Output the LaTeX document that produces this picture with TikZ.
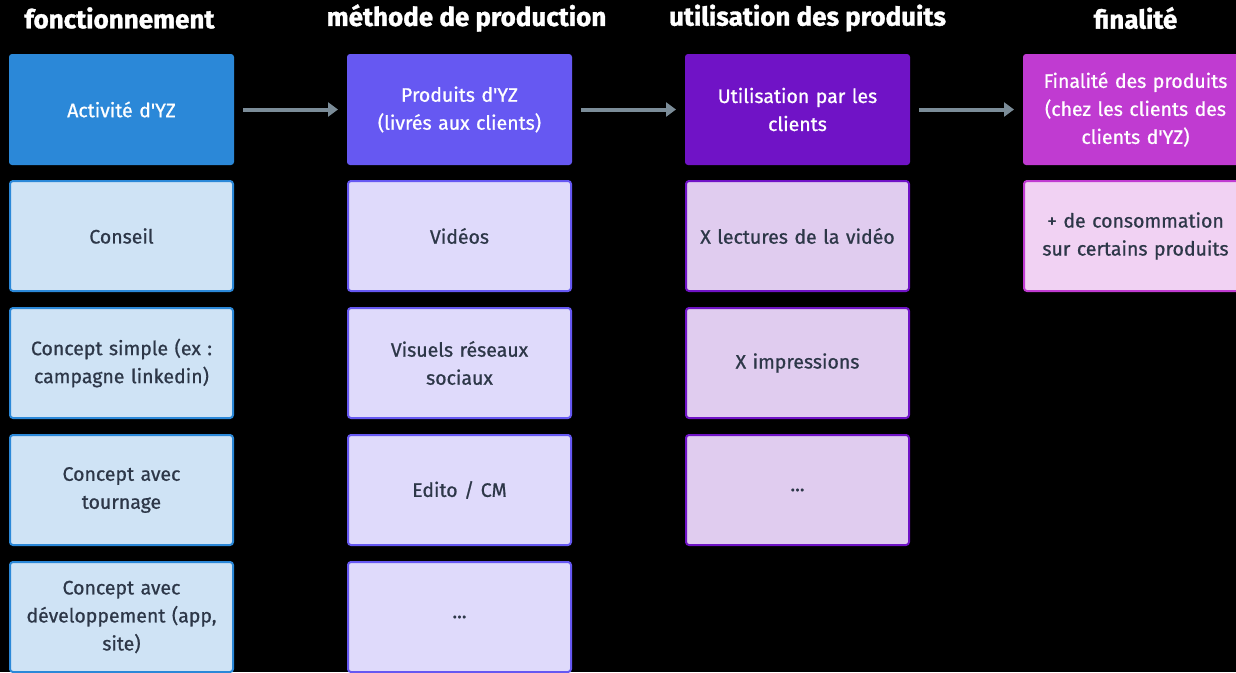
\documentclass[tikz,border=0pt]{standalone}
\usepackage{fontspec}
\setmainfont{Fira Sans}
\usepackage{xcolor}
\usetikzlibrary{
  	positioning,
  	arrows.meta
  }
\definecolor{bleu}{HTML}{2B88D8}
\definecolor{bleuclair}{HTML}{CFE3F5}
\definecolor{violet}{HTML}{6658F2}
\definecolor{violetclair}{HTML}{DFDAFB}
\definecolor{pourpre}{HTML}{7013C6}
\definecolor{pourpreclair}{HTML}{E0CCEF}
\definecolor{magenta}{HTML}{C03BD1}
\definecolor{magentaclair}{HTML}{F1D2F3}
\definecolor{fleche}{HTML}{7B8C98}
\definecolor{texte}{HTML}{2D3748}
\newcommand{\apos}{\textquotesingle}
\tikzstyle{titre}=[text=white,font=\fontsize{26}{30}\selectfont\bfseries\addfontfeatures{FakeBold=1.2},inner sep=0pt]
\tikzstyle{entete}=[rectangle,rounded corners=3pt,minimum width=225pt,minimum height=111pt,text width=215pt,align=center,inner sep=0pt,outer sep=0pt,text=white,font=\fontsize{19.5}{28}\selectfont\addfontfeatures{FakeBold=0.8}]
\tikzstyle{boite}=[entete,line width=2pt,text=texte,minimum width=223pt,minimum height=110pt]
\tikzstyle{lien}=[draw=fleche,line width=4pt,-{Triangle[length=10pt,width=14pt]},shorten <=9pt,shorten >=9pt]

\begin{document}
\begin{tikzpicture}[x=1pt,y=1pt]
  \fill[black] (0,0) rectangle (1236,-672);
  \useasboundingbox (0,0) rectangle (1236,-672);
%
  \node[entete,fill=bleu] (act) at (121.5,-109.5) {Activité d\apos YZ};
  \node[boite,fill=bleuclair,draw=bleu,below=16pt of act] (conseil) {Conseil};
  \node[boite,fill=bleuclair,draw=bleu,below=17pt of conseil] (simple) {Concept simple (ex :\\ campagne linkedin)};
  \node[boite,fill=bleuclair,draw=bleu,below=17pt of simple] (tournage) {Concept avec\\ tournage};
  \node[boite,fill=bleuclair,draw=bleu,below=17pt of tournage] (dev) {Concept avec\\ développement (app,\\ site)};
%
  \node[entete,fill=violet,right=113pt of act] (prod) {Produits d\apos YZ\\ (livrés aux clients)};
  \node[boite,fill=violetclair,draw=violet,below=16pt of prod] (videos) {Vidéos};
  \node[boite,fill=violetclair,draw=violet,below=17pt of videos] (visuels) {Visuels réseaux\\ sociaux};
  \node[boite,fill=violetclair,draw=violet,below=17pt of visuels] (edito) {Edito / CM};
  \node[boite,fill=violetclair,draw=violet,below=17pt of edito] (autreprod) {...};
%
  \node[entete,fill=pourpre,right=113pt of prod] (util) {Utilisation par les\\ clients};
  \node[boite,fill=pourpreclair,draw=pourpre,below=16pt of util] (lectures) {X lectures de la vidéo};
  \node[boite,fill=pourpreclair,draw=pourpre,below=17pt of lectures] (impr) {X impressions};
  \node[boite,fill=pourpreclair,draw=pourpre,below=17pt of impr] (autreutil) {...};
%
  \node[entete,fill=magenta,right=113pt of util] (fin) {Finalité des produits\\ (chez les clients des\\ clients d\apos YZ)};
  \node[boite,fill=magentaclair,draw=magenta,below=16pt of fin] (conso) {+ de consommation\\ sur certains produits};
%
  \node[titre,xshift=-2pt] (t1) at (act |- 0,-18) {fonctionnement};
  \node[titre,xshift=7pt] (t2) at (prod |- 0,-18) {méthode de production};
  \node[titre,xshift=10pt] (t3) at (util |- 0,-18) {utilisation des produits};
  \node[titre] (t4) at (fin |- 0,-18) {finalité};
%
  \draw[lien] (act) -- (prod);
  \draw[lien] (prod) -- (util);
  \draw[lien] (util) -- (fin);
\end{tikzpicture}
\end{document}
